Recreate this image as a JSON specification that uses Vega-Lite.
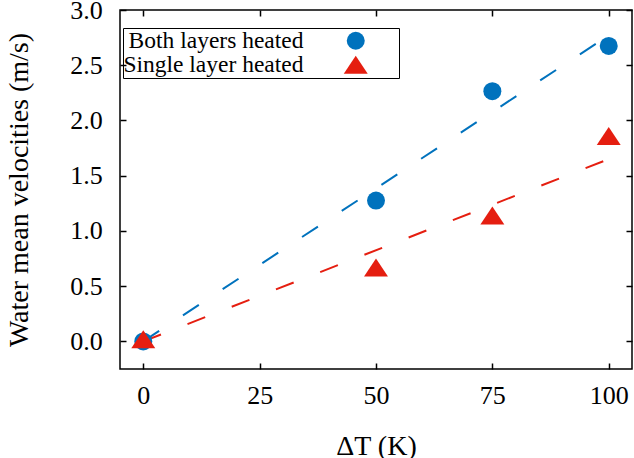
{
  "$schema": "https://vega.github.io/schema/vega-lite/v6.json",
  "autosize": "none",
  "width": 512,
  "height": 359,
  "padding": {"left": 120, "top": 10, "right": 2, "bottom": 89},
  "background": "white",
  "config": {
    "view": {"stroke": "black", "strokeWidth": 1.5},
    "font": "serif",
    "axis": {"grid": false, "domain": false, "tickColor": "black", "tickWidth": 1.5, "tickSize": -6, "labelColor": "black", "labelFont": "serif", "labelFontSize": 26, "titleFont": "serif", "titleFontSize": 28, "titleFontWeight": "normal", "titleColor": "black"}
  },
  "datasets": {
    "fits": [
      {"dt": 0, "v": 0, "series": "Both layers heated"},
      {"dt": 100, "v": 2.77, "series": "Both layers heated"},
      {"dt": 0, "v": 0, "series": "Single layer heated"},
      {"dt": 100, "v": 1.65, "series": "Single layer heated"}
    ],
    "points": [
      {"dt": 0, "v": 0, "series": "Both layers heated"},
      {"dt": 50, "v": 1.275, "series": "Both layers heated"},
      {"dt": 75, "v": 2.265, "series": "Both layers heated"},
      {"dt": 100, "v": 2.675, "series": "Both layers heated"},
      {"dt": 0, "v": 0.02, "series": "Single layer heated"},
      {"dt": 50, "v": 0.67, "series": "Single layer heated"},
      {"dt": 75, "v": 1.14, "series": "Single layer heated"},
      {"dt": 100, "v": 1.86, "series": "Single layer heated"}
    ]
  },
  "layer": [
    {
      "data": {"name": "fits"},
      "transform": [{"filter": "datum.series === 'Both layers heated'"}],
      "mark": {"type": "line", "strokeWidth": 2, "strokeDash": [19, 28.5], "color": "#0072bd"},
      "encoding": {
        "x": {"field": "dt", "type": "quantitative", "scale": {"domain": [-5, 105], "nice": false, "zero": false}, "axis": {"orient": "bottom", "values": [0, 25, 50, 75, 100], "title": "ΔT (K)", "labelFont": "serif", "labelFontSize": 26, "titleFont": "serif", "titleFontSize": 28, "labelPadding": 19, "titlePadding": 46, "titleBaseline": "alphabetic"}},
        "y": {"field": "v", "type": "quantitative", "scale": {"domain": [-0.25, 3], "nice": false, "zero": false}, "axis": {"orient": "left", "values": [0, 0.5, 1, 1.5, 2, 2.5, 3], "format": ".1f", "title": "Water mean velocities (m/s)", "labelFont": "serif", "labelFontSize": 26, "titleFont": "serif", "titleFontSize": 28, "labelPadding": 23.7, "titlePadding": 42, "titleBaseline": "alphabetic"}}
      }
    },
    {
      "data": {"name": "fits"},
      "transform": [{"filter": "datum.series === 'Single layer heated'"}],
      "mark": {"type": "line", "strokeWidth": 2, "strokeDash": [19, 28.5], "color": "#e51e10"},
      "encoding": {
        "x": {"field": "dt", "type": "quantitative", "axis": null},
        "y": {"field": "v", "type": "quantitative", "axis": null}
      }
    },
    {
      "data": {"name": "points"},
      "mark": {"type": "point", "filled": true, "opacity": 1, "size": 324, "strokeWidth": 0},
      "encoding": {
        "x": {"field": "dt", "type": "quantitative", "axis": {"orient": "top", "values": [0, 25, 50, 75, 100], "labels": false, "title": null}},
        "y": {"field": "v", "type": "quantitative", "axis": {"orient": "right", "values": [0, 0.5, 1, 1.5, 2, 2.5, 3], "labels": false, "title": null}},
        "color": {"field": "series", "type": "nominal", "scale": {"domain": ["Both layers heated", "Single layer heated"], "range": ["#0072bd", "#e51e10"]},
          "legend": {"title": "\u2003", "titleOrient": "right", "titleFontSize": 26, "titlePadding": 30, "orient": "none", "legendX": 3, "legendY": 18, "strokeColor": "black", "padding": 1, "labelAlign": "right", "labelOffset": -64, "symbolOffset": 220, "symbolSize": 324, "labelFont": "serif", "labelFontSize": 23.5, "labelColor": "black", "labelLimit": 400, "rowPadding": -13}},
        "shape": {"field": "series", "type": "nominal", "scale": {"domain": ["Both layers heated", "Single layer heated"], "range": ["circle", "M0,-1L1.33,1L-1.33,1Z"]},
          "legend": {"title": "\u2003", "titleOrient": "right", "titleFontSize": 26, "titlePadding": 30, "orient": "none", "legendX": 3, "legendY": 18, "strokeColor": "black", "padding": 1, "labelAlign": "right", "labelOffset": -64, "symbolOffset": 220, "symbolSize": 324, "labelFont": "serif", "labelFontSize": 23.5, "labelColor": "black", "labelLimit": 400, "rowPadding": -13}}
      }
    }
  ],
  "resolve": {"axis": {"x": "independent", "y": "independent"}}
}
